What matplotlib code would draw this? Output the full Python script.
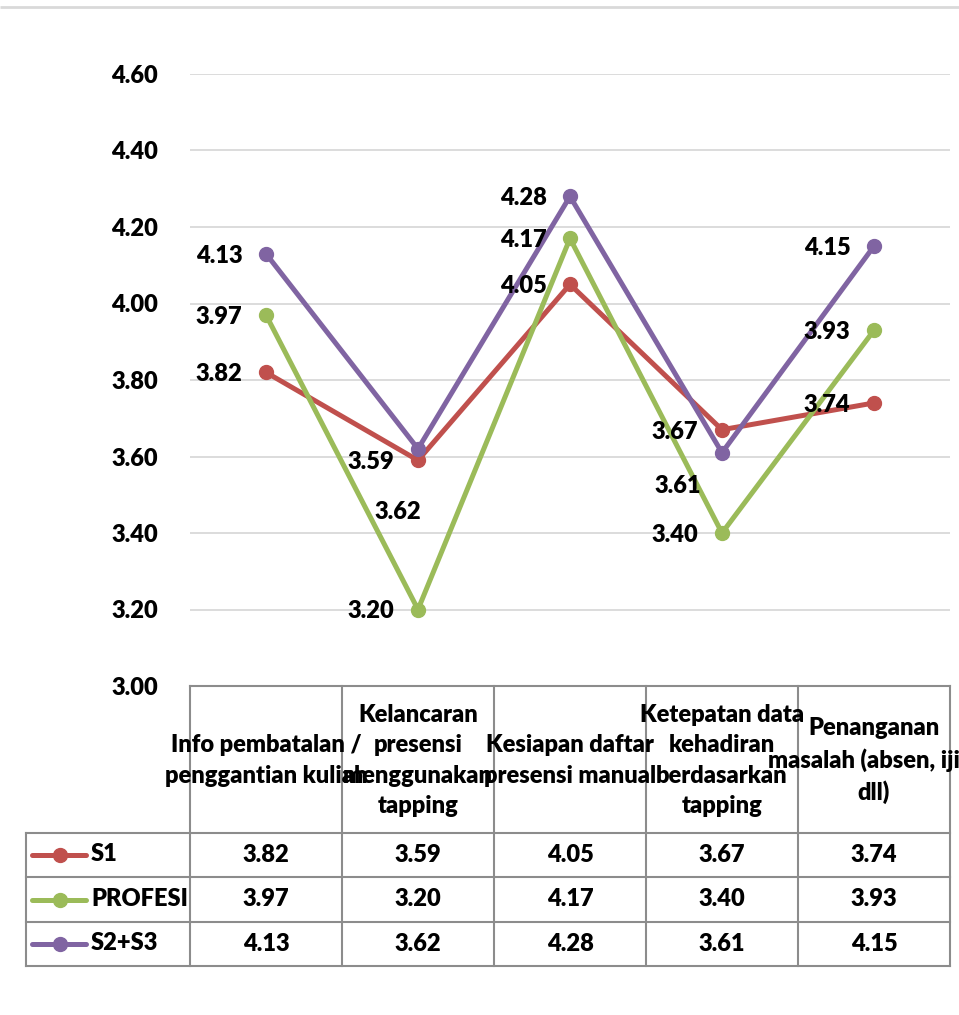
import matplotlib

matplotlib.use("Agg")
import matplotlib.pyplot as plt

categories = [
    "Info pembatalan /\npenggantian kuliah",
    "Kelancaran\npresensi\nmenggunakan\ntapping",
    "Kesiapan daftar\npresensi manual",
    "Ketepatan data\nkehadiran\nberdasarkan\ntapping",
    "Penanganan\nmasalah (absen, ijin,\ndll)",
]
series_names = ["S1", "PROFESI", "S2+S3"]
s1 = [3.82, 3.59, 4.05, 3.67, 3.74]
profesi = [3.97, 3.20, 4.17, 3.40, 3.93]
s2s3 = [4.13, 3.62, 4.28, 3.61, 4.15]
y_ticks = [3.00, 3.20, 3.40, 3.60, 3.80, 4.00, 4.20, 4.40, 4.60]

colors = ["#C0504D", "#9BBB59", "#8064A2"]
FONT = "Lato"
FW = "heavy"
FS = 17
W, H = 959, 1015

# label offsets in pixels (dx, dy with dy downward), default left of point
default_off = (-47, 2)
special_off = {(2, 1): (-20, 63), (2, 3): (-44, 33)}

fig = plt.figure(figsize=(W / 100, H / 100), dpi=100)

# overlay in pixel coordinates for the data table and frame line
ov = fig.add_axes([0, 0, 1, 1])
ov.set_xlim(0, W)
ov.set_ylim(H, 0)
ov.axis("off")

ov.plot([0, W], [7, 7], color="#d9d9d9", lw=2, solid_capstyle="butt")

col_edges = [190, 342, 494, 646, 798, 950]
row_edges = [686, 833, 877, 922, 966]
leg_left = 26
bc = "#8c8c8c"
ov.plot([col_edges[0], col_edges[-1]], [row_edges[0]] * 2, color=bc, lw=1.5)
for yy in row_edges[1:]:
    ov.plot([leg_left, col_edges[-1]], [yy, yy], color=bc, lw=1.5)
for xx in col_edges:
    ov.plot([xx, xx], [row_edges[0], row_edges[-1]], color=bc, lw=1.5)
ov.plot([leg_left, leg_left], [row_edges[1], row_edges[-1]], color=bc, lw=1.5)

centers = [(col_edges[i] + col_edges[i + 1]) / 2 for i in range(5)]
head_mid = (row_edges[0] + row_edges[1]) / 2 + 1
for cx, lab in zip(centers, categories):
    ov.text(cx, head_mid, lab, ha="center", va="center", fontsize=FS,
            fontweight=FW, family=FONT, linespacing=1.45, clip_on=False)

all_series = [s1, profesi, s2s3]
for r, (name, vals, c) in enumerate(zip(series_names, all_series, colors)):
    ry = (row_edges[r + 1] + row_edges[r + 2]) / 2
    ov.plot([32, 86], [ry, ry], color=c, lw=3.6, solid_capstyle="round")
    ov.plot([60], [ry], "o", color=c, ms=10)
    ov.text(91, ry - 1, name, ha="left", va="center", fontsize=FS,
            fontweight=FW, family=FONT)
    for cx, v in zip(centers, vals):
        ov.text(cx, ry, f"{v:.2f}", ha="center", va="center", fontsize=FS,
                fontweight=FW, family=FONT)

# line chart
ax = fig.add_axes([190 / W, 1 - 686 / H, 760 / W, 612 / H])
ax.patch.set_alpha(0)
ax.set_xlim(-0.5, 4.5)
ax.set_ylim(3.0, 4.6)
for sp in ax.spines.values():
    sp.set_visible(False)
ax.set_xticks([])
ax.set_yticks(y_ticks)
ax.set_yticklabels([f"{t:.2f}" for t in y_ticks], fontsize=FS,
                   fontweight=FW, family=FONT)
ax.tick_params(axis="y", length=0, pad=23)
for t in y_ticks[1:]:
    ax.axhline(t, color="#d9d9d9", lw=1.3, zorder=0)

xs = list(range(len(categories)))
for s, (vals, c) in enumerate(zip(all_series, colors)):
    ax.plot(xs, vals, color=c, lw=3.6, marker="o", ms=10, zorder=2 + s)
    for i, v in enumerate(vals):
        dx, dy = special_off.get((s, i), default_off)
        ax.annotate(f"{v:.2f}", (i, v), xytext=(dx, -dy),
                    textcoords="offset pixels", ha="center", va="center",
                    fontsize=FS, fontweight=FW, family=FONT,
                    annotation_clip=False, zorder=6)

fig.savefig("out.png", dpi=100)
